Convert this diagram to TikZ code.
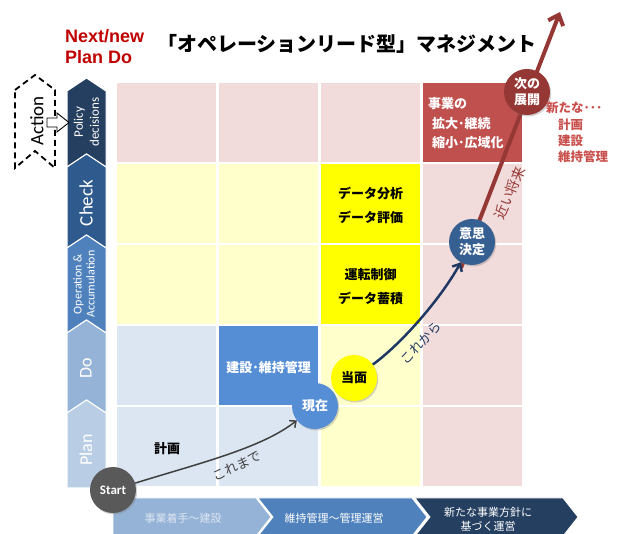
\documentclass[tikz,border=0pt]{standalone}
\usepackage{fontspec}
\setmainfont{Carlito}
\newfontfamily\jp{Noto Sans CJK JP}
\newfontfamily\arl{Liberation Sans}
\usetikzlibrary{arrows.meta,shadows}
\definecolor{cpink}{HTML}{F2DCDB}
\definecolor{cred}{HTML}{C0504D}
\definecolor{clyel}{HTML}{FFFFCC}
\definecolor{cyel}{HTML}{FFFF00}
\definecolor{clblue}{HTML}{DCE6F2}
\definecolor{cblue}{HTML}{558ED5}
\definecolor{navy}{HTML}{243F60}
\definecolor{chkblue}{HTML}{2F5A8E}
\definecolor{opblue}{HTML}{4F81BD}
\definecolor{doblue}{HTML}{95B3D7}
\definecolor{planblue}{HTML}{B9CDE5}
\definecolor{dred}{HTML}{953735}
\definecolor{ishiblue}{HTML}{376092}
\definecolor{arrnavy}{HTML}{203864}
\definecolor{titlered}{HTML}{C00000}
\definecolor{sidered}{HTML}{C9504D}
\begin{document}
\begin{tikzpicture}[x=1pt,y=-1pt,
  cell/.style={minimum width=99pt,minimum height=79pt,inner sep=0pt,draw=none},
  jpb/.style={font=\jp\bfseries\fontsize{13}{17}\selectfont,inner sep=0pt},
  jpr/.style={font=\jp\fontsize{13}{17}\selectfont,inner sep=0pt},
  chevtext/.style={rotate=90,text=white,align=center,inner sep=0pt},
  chevfill/.style={draw=white,line width=1pt},
  circ/.style={circle,minimum size=46pt,inner sep=0pt,align=center,
    font=\jp\bfseries\fontsize{13}{16}\selectfont,
    drop shadow={opacity=0.35,shadow xshift=1.2pt,shadow yshift=-1.5pt}},
  redarrow/.style={draw=dred,line width=4pt,-{Straight Barb[length=9pt,width=16pt]}},
  bluearrow/.style={draw=arrnavy,line width=2.5pt,-{Straight Barb[length=6pt,width=11pt]}},
  greyarrow/.style={draw=black!75,line width=1.5pt,-{Straight Barb[length=5pt,width=9pt]}},
  bottomtext/.style={font=\jp\fontsize{11}{14}\selectfont,align=center,inner sep=0pt}
]
\useasboundingbox (0,0) rectangle (619,534);
\fill[white] (0,0) rectangle (619,534);

% ---- grid cells ----
\node[cell,fill=cpink]  (c11) at (166.5,122.5) {};
\node[cell,fill=cpink]  (c12) at (268.5,122.5) {};
\node[cell,fill=cpink]  (c13) at (370.5,122.5) {};
\node[cell,fill=cred]   (c14) at (472,122.5) {};
\node[cell,fill=clyel]  (c21) at (166.5,204) {};
\node[cell,fill=clyel]  (c22) at (268.5,204) {};
\node[cell,fill=cyel]   (c23) at (370.5,204) {};
\node[cell,fill=cpink]  (c24) at (472,204) {};
\node[cell,fill=clyel]  (c31) at (166.5,285) {};
\node[cell,fill=clyel]  (c32) at (268.5,285) {};
\node[cell,fill=cyel]   (c33) at (370.5,285) {};
\node[cell,fill=cpink]  (c34) at (472,285) {};
\node[cell,fill=clblue] (c41) at (166.5,366) {};
\node[cell,fill=cblue]  (c42) at (268.5,366) {};
\node[cell,fill=clyel]  (c43) at (370.5,366) {};
\node[cell,fill=cpink]  (c44) at (472,366) {};
\node[cell,fill=clblue] (c51) at (166.5,447) {};
\node[cell,fill=clblue] (c52) at (268.5,447) {};
\node[cell,fill=clyel]  (c53) at (370.5,447) {};
\node[cell,fill=cpink]  (c54) at (472,447) {};

% ---- cell texts ----
\node[jpb,text=white,anchor=west] (j1) at (428,104) {事業の};
\node[jpb,text=white,anchor=west] (j2) at (432,124) {拡大･継続};
\node[jpb,text=white,anchor=west] (j3) at (432,143) {縮小･広域化};
\node[jpb] (d1) at (370.5,193) {データ分析};
\node[jpb] (d2) at (370.5,217) {データ評価};
\node[jpb] (d3) at (370.5,275) {運転制御};
\node[jpb] (d4) at (370.5,298) {データ蓄積};
\node[jpb,text=white] (k1) at (268.5,368) {建設･維持管理};
\node[jpb] (k2) at (167,449) {計画};

% ---- title ----
\node[font=\jp\bfseries\fontsize{20}{24}\selectfont,inner sep=0pt] (title) at (347,44) {「オペレーションリード型」マネジメント};
\node[font=\arl\bfseries\fontsize{18}{21}\selectfont,text=titlered,anchor=west,inner sep=0pt] (nn1) at (65,36) {Next/new};
\node[font=\arl\bfseries\fontsize{18}{21}\selectfont,text=titlered,anchor=west,inner sep=0pt] (nn2) at (65,57) {Plan Do};

% ---- left chevrons ----
\fill[navy,chevfill] (67,91) -- (86.5,78) -- (106,91) -- (106,167) -- (86.5,154) -- (67,167) -- cycle;
\fill[chkblue,chevfill] (67,167) -- (86.5,154) -- (106,167) -- (106,248) -- (86.5,235) -- (67,248) -- cycle;
\fill[opblue,chevfill] (67,248) -- (86.5,235) -- (106,248) -- (106,333) -- (86.5,320) -- (67,333) -- cycle;
\fill[doblue,chevfill] (67,333) -- (86.5,320) -- (106,333) -- (106,413) -- (86.5,400) -- (67,413) -- cycle;
\fill[planblue,chevfill] (67,413) -- (86.5,400) -- (106,413) -- (106,488) -- (67,488) -- cycle;
\node[chevtext,font=\fontsize{13}{16}\selectfont] (pol) at (86.5,122) {Policy\\decisions};
\node[chevtext,font=\fontsize{19}{22}\selectfont] (chk) at (86,203) {Check};
\node[chevtext,font=\fontsize{12}{13}\selectfont] (opa) at (84,284) {Operation \&\\Accumulation};
\node[chevtext,font=\fontsize{18}{22}\selectfont] (dos) at (86,368) {Do};
\node[chevtext,font=\fontsize{18}{22}\selectfont] (pln) at (86,450) {Plan};

% ---- Action ----
\draw[black,line width=1.8pt,dash pattern=on 6pt off 4pt] (15,90) -- (35,75) -- (55,90) -- (55,168) -- (35,151) -- (15,168) -- cycle;
\node[rotate=90,font=\fontsize{19}{22}\selectfont,inner sep=0pt] (act) at (37,121) {Action};
\filldraw[fill=white,draw=black,line width=0.9pt] (47,118) -- (57,118) -- (57,113) -- (69,122.5) -- (57,132) -- (57,127) -- (47,127) -- cycle;

% ---- bottom chevrons ----
\fill[doblue,draw=white,line width=0.8pt] (113,498) -- (256,498) -- (271,517) -- (256,536) -- (113,536) -- cycle;
\fill[opblue,draw=white,line width=0.8pt] (258,498) -- (412,498) -- (427,517) -- (412,536) -- (258,536) -- (273,517) -- cycle;
\fill[navy,draw=white,line width=0.8pt] (415,498) -- (563,498) -- (578,517) -- (563,536) -- (415,536) -- (430,517) -- cycle;
\node[bottomtext,text=clblue] (b1) at (183,518) {事業着手～建設};
\node[bottomtext,text=white] (b2) at (334,518) {維持管理～管理運営};
\node[bottomtext,text=white] (b3) at (488,519) {新たな事業方針に\\基づく運営};

% ---- red arrow ----
\coordinate (rs) at (461,268);
\coordinate (rt) at (560,12);
\draw[redarrow] (rs) -- (rt);

% ---- circles ----
\node[circ,fill=black!65,text=white,font=\bfseries\fontsize{13}{16}\selectfont] (start) at (113,490) {Start};
\node[circ,fill=cyel] (toumen) at (354,378) {当面};
\node[circ,fill=cblue,text=white] (genzai) at (315,406) {現在};
\node[circ,fill=ishiblue,text=white] (ishi) at (472,242) {意思\\決定};
\node[circ,fill=dred,text=white] (tsugi) at (527,92) {次の\\展開};

% ---- connectors ----
\draw[greyarrow] (start) .. controls (200,463) and (262,448) .. (genzai);
\draw[bluearrow] (toumen) .. controls (400,345) and (440,300) .. (ishi);

% ---- arrow labels ----
\node[jpr,text=black!75,rotate=25] (l1) at (237,466) {これまで};
\node[jpr,text=arrnavy,rotate=47] (l2) at (421,343) {これから};
\node[jpr,text=dred,rotate=67,font=\jp\fontsize{14}{17}\selectfont] (l3) at (510,193) {近い将来};

% ---- side red text ----
\node[jpb,text=sidered,anchor=west,font=\jp\bfseries\fontsize{12.5}{15}\selectfont] (s1) at (546,108) {新たな･･･};
\node[jpb,text=sidered,anchor=west,font=\jp\bfseries\fontsize{12.5}{15}\selectfont] (s2) at (558,125) {計画};
\node[jpb,text=sidered,anchor=west,font=\jp\bfseries\fontsize{12.5}{15}\selectfont] (s3) at (558,141) {建設};
\node[jpb,text=sidered,anchor=west,font=\jp\bfseries\fontsize{12.5}{15}\selectfont] (s4) at (558,157) {維持管理};
\end{tikzpicture}
\end{document}
